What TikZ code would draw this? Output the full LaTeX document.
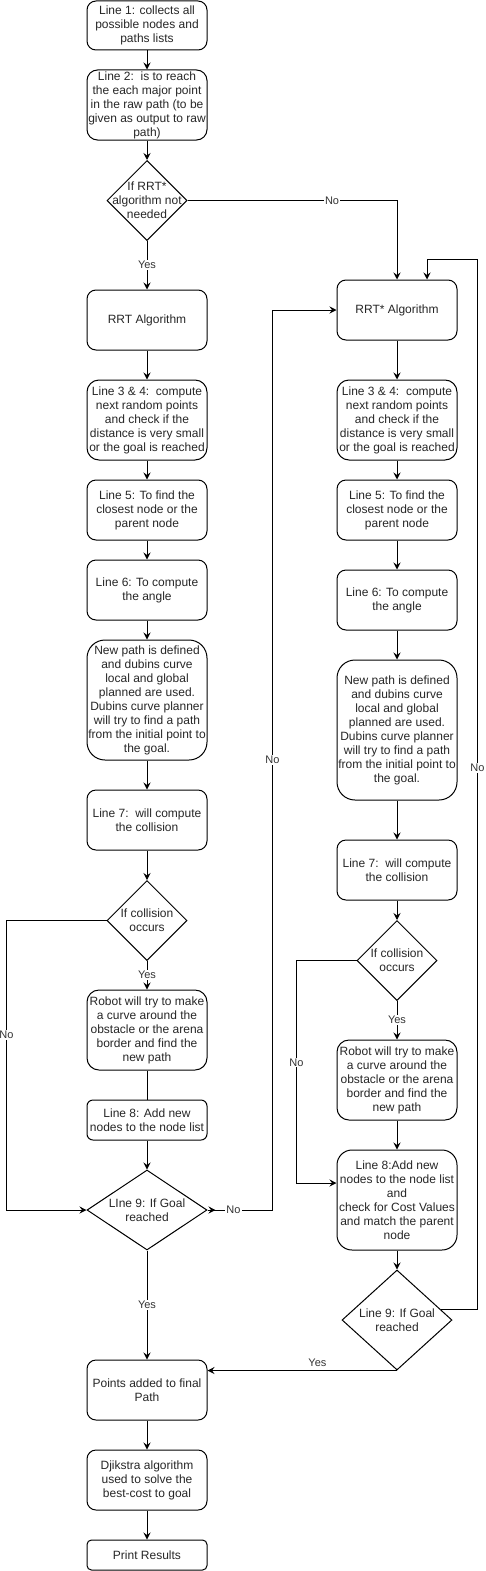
\documentclass[tikz,border=0pt]{standalone}
\usepackage{fontspec}
\setmainfont{Liberation Sans}
\usetikzlibrary{arrows.meta,shapes.geometric,calc}
\begin{document}
\begin{tikzpicture}[x=1pt,y=-1pt,line width=1pt,
  box/.style={draw, rounded corners=9pt, minimum width=120pt, align=center, inner sep=0pt,
    font=\fontsize{12}{14}\selectfont, text=black!85},
  dia/.style={draw, diamond, inner sep=0pt, minimum width=80pt, minimum height=80pt},
  dtxt/.style={align=center, font=\fontsize{12}{14}\selectfont, text=black!85, inner sep=0pt},
  arr/.style={-{Stealth[length=7pt,width=7pt,inset=2.5pt]}},
  lbl/.style={fill=white, inner sep=1pt, font=\fontsize{11}{13}\selectfont, text=black!80}]
\useasboundingbox (0,0) rectangle (486,1571);

% left column
\node[box, minimum height=49pt] (b1) at (147,25.5) {Line 1: collects all\\possible nodes and\\paths lists};
\node[box, minimum height=70pt, rounded corners=10.5pt] (b2) at (147,105) {Line 2:\ \ is to reach\\the each major point\\in the raw path (to be\\given as output to raw\\path)};
\node[dia, label={[dtxt]center:{If RRT*\\algorithm not\\needed}}] (d1) at (147,200.5) {};
\node[box, minimum height=60pt] (rrt) at (147,320) {RRT Algorithm};
\node[box, minimum height=80pt, rounded corners=12pt] (l34L) at (147,420) {Line 3 \& 4:\ \ compute\\next random points\\and check if the\\distance is very small\\or the goal is reached};
\node[box, minimum height=60pt] (l5L) at (147,510) {Line 5: To find the\\closest node or the\\parent node};
\node[box, minimum height=60pt] (l6L) at (147,590) {Line 6: To compute\\the angle};
\node[box, minimum height=120pt, rounded corners=18pt] (npL) at (147,700) {New path is defined\\and dubins curve\\local and global\\planned are used.\\Dubins curve planner\\will try to find a path\\from the initial point to\\the goal.};
\node[box, minimum height=60pt] (l7L) at (147,820) {Line 7:\ \ will compute\\the collision};
\node[dia, label={[dtxt]center:{If collision\\occurs}}] (colL) at (147,920.5) {};
\node[box, minimum height=80pt, rounded corners=12pt] (robL) at (147,1030) {Robot will try to make\\a curve around the\\obstacle or the arena\\border and find the\\new path};
\node[box, minimum height=40pt, rounded corners=6pt] (l8L) at (147,1120) {Line 8: Add new\\nodes to the node list};
\node[dia, minimum width=120pt, label={[dtxt]center:{LIne 9: If Goal\\reached}}] (d9L) at (147,1210) {};
\node[box, minimum height=60pt] (pts) at (147,1390) {Points added to final\\Path};
\node[box, minimum height=60pt] (dj) at (147,1480) {Djikstra algorithm\\used to solve the\\best-cost to goal};
\node[box, minimum height=30pt, rounded corners=4.5pt] (pr) at (147,1555) {Print Results};

% right column
\node[box, minimum height=60pt] (rrts) at (397,310) {RRT* Algorithm};
\node[box, minimum height=80pt, rounded corners=12pt] (l34R) at (397,420) {Line 3 \& 4:\ \ compute\\next random points\\and check if the\\distance is very small\\or the goal is reached};
\node[box, minimum height=60pt] (l5R) at (397,510) {Line 5: To find the\\closest node or the\\parent node};
\node[box, minimum height=60pt] (l6R) at (397,600) {Line 6: To compute\\the angle};
\node[box, minimum height=140pt, rounded corners=18pt] (npR) at (397,730) {New path is defined\\and dubins curve\\local and global\\planned are used.\\Dubins curve planner\\will try to find a path\\from the initial point to\\the goal.};
\node[box, minimum height=60pt] (l7R) at (397,870) {Line 7:\ \ will compute\\the collision};
\node[dia, label={[dtxt]center:{If collision\\occurs}}] (colR) at (397,960.5) {};
\node[box, minimum height=80pt, rounded corners=12pt] (robR) at (397,1080) {Robot will try to make\\a curve around the\\obstacle or the arena\\border and find the\\new path};
\node[box, minimum height=100pt, rounded corners=15pt] (l8R) at (397,1200) {Line 8:Add new\\nodes to the node list\\and\\check for Cost Values\\and match the parent\\node};
\node[dia, minimum width=110pt, minimum height=100pt, label={[dtxt]center:{Line 9: If Goal\\reached}}] (d9R) at (397,1320) {};

% left connectors
\draw[arr] (b1) -- (b2);
\draw[arr] (b2) -- (d1);
\draw[arr] (d1) -- node[lbl]{Yes} (rrt);
\draw[arr] (d1.east) -| node[lbl,pos=0.345]{No} (rrts.north);
\draw[arr] (rrt) -- (l34L);
\draw[arr] (l34L) -- (l5L);
\draw[arr] (l5L) -- (l6L);
\draw[arr] (l6L) -- (npL);
\draw[arr] (npL) -- (l7L);
\draw[arr] (l7L) -- (colL);
\draw[arr] (colL) -- node[lbl]{Yes} (robL);
\draw (robL) -- (l8L);
\draw[arr] (l8L) -- (d9L);
\draw[arr] (colL.west) -- ++(-100,0) |- node[lbl,pos=0.198]{No} (d9L.west);
\draw[arr] (d9L.east) -- node[lbl,pos=0.4]{No} ++(65,0) |- node[lbl,pos=0.25]{No} (rrts.west);
\draw[arr] (d9L.east) -- ++(8,0);
\draw[arr] (d9L) -- node[lbl]{Yes} (pts);
\draw[arr] (pts) -- (dj);
\draw[arr] (dj) -- (pr);

% right connectors
\draw[arr] (rrts) -- (l34R);
\draw[arr] (l34R) -- (l5R);
\draw[arr] (l5R) -- (l6R);
\draw[arr] (l6R) -- (npR);
\draw[arr] (npR) -- (l7R);
\draw[arr] (l7R) -- (colR);
\draw[arr] (colR) -- node[lbl]{Yes} (robR);
\draw[arr] (robR) -- (l8R);
\draw[arr] (l8R) -- (d9R);
\draw[arr] (colR.west) -- ++(-60,0) |- node[lbl,pos=0.229]{No} ([yshift=17pt]l8R.west);
\coordinate (d9Rout) at ($(d9R.east)!0.2!(d9R.north)$);
\draw[arr] (d9Rout) -- ++(36,0) -- node[lbl,pos=0.516]{No} ++(0,-1050) -| ([xshift=30pt]rrts.north);
\draw[arr] (d9R.south) -- node[lbl,above=2pt,pos=0.42,fill=none]{Yes} (pts.east |- d9R.south);
\end{tikzpicture}
\end{document}
